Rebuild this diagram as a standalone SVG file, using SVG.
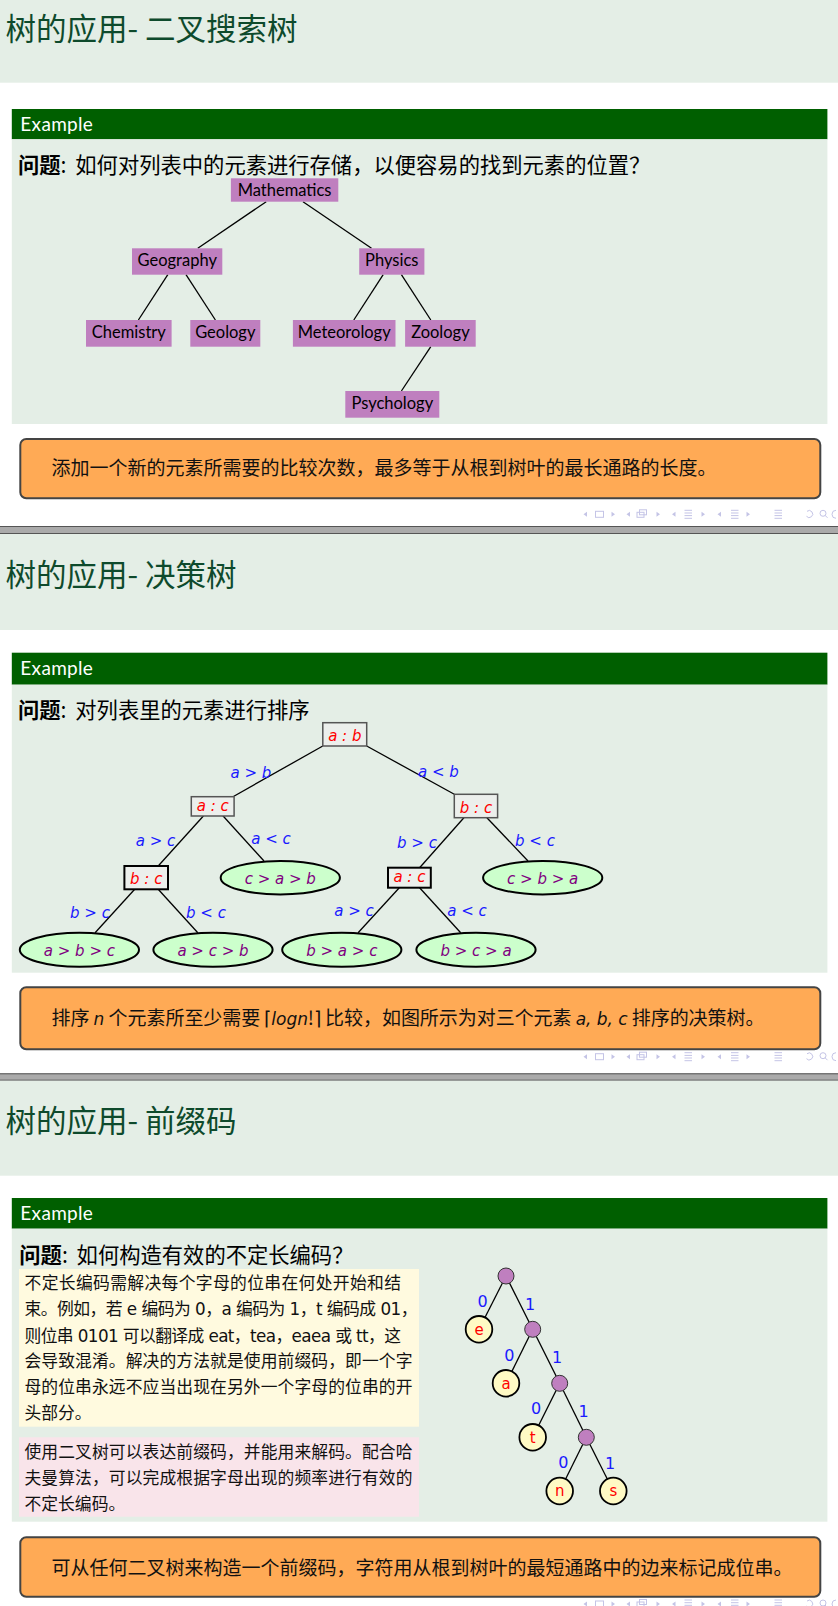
<svg xmlns="http://www.w3.org/2000/svg" xmlns:xlink="http://www.w3.org/1999/xlink" width="838" height="1606" viewBox="0 0 838 1606">
<style>
.band{fill:#E4EEE6}
.hdr{fill:#005F00}
.hdrt{font-family:Lato,"Open Sans",sans-serif;font-size:19px;fill:#fff}
.title{font-family:"Noto Sans CJK SC",sans-serif;font-size:30.5px;fill:#0E4A2C}
.q{font-family:"Noto Sans CJK SC",sans-serif;font-size:21.3px;fill:#000}
.qb{font-weight:bold}
.ob{fill:#FFAA55;stroke:#444;stroke-width:2}
.ot{font-family:"Noto Sans CJK SC",sans-serif;font-size:19px;fill:#111}
.it{font-family:"DejaVu Sans",sans-serif;font-style:italic;font-size:17px}
.pn{fill:#BF7FBF}
.pt{font-family:Lato,"Liberation Sans",sans-serif;font-size:16.5px;fill:#000;text-anchor:middle}
.edge{stroke:#000;stroke-width:1.3;fill:none}
.dbox{fill:#ECEFEC;stroke:#555;stroke-width:1.5}
.dbox2{fill:#ECEFEC;stroke:#000;stroke-width:2}
.dt{font-family:"DejaVu Sans",sans-serif;font-style:italic;font-size:15px;fill:#F00;text-anchor:middle}
.leaf{fill:#CCFFCC;stroke:#000;stroke-width:2}
.lt{font-family:"DejaVu Sans",sans-serif;font-style:italic;font-size:15px;fill:#800080;text-anchor:middle}
.el{font-family:"DejaVu Sans",sans-serif;font-style:italic;font-size:15px;fill:#1A1AFF;text-anchor:middle}
.sep{fill:#AAAAAA}
.sepl{stroke:#555;stroke-width:1}
.yb{fill:#FFFADF}
.pb{fill:#F9E4EA}
.bt{font-family:"DejaVu Sans","Noto Sans CJK SC",sans-serif;font-size:16.8px;fill:#111}
.cn{fill:#BF7FBF;stroke:#333;stroke-width:1}
.cl{fill:#FFFAC4;stroke:#000;stroke-width:1.8}
.clt{font-family:"DejaVu Sans",sans-serif;font-size:15px;fill:#F00;text-anchor:middle}
.bl{font-family:"DejaVu Sans",sans-serif;font-size:16px;fill:#1A1AFF;text-anchor:middle}
</style>
<defs>
<g id="nav">
<g fill="#C4C4E6">
<path d="M17,-2.5 L13.5,0 L17,2.5Z"/>
<path d="M41.5,-2.5 L45,0 L41.5,2.5Z"/>
<path d="M60,-2.5 L56.5,0 L60,2.5Z"/>
<path d="M86.5,-2.5 L90,0 L86.5,2.5Z"/>
<path d="M105.5,-2.5 L102,0 L105.5,2.5Z"/>
<path d="M131.5,-2.5 L135,0 L131.5,2.5Z"/>
<path d="M151,-2.5 L147.5,0 L151,2.5Z"/>
<path d="M176.5,-2.5 L180,0 L176.5,2.5Z"/>
</g>
<g fill="none" stroke="#C4C4E6" stroke-width="1">
<rect x="25.5" y="-3" width="8" height="6"/>
<rect x="67" y="-2" width="7" height="5"/>
<rect x="69.5" y="-4.5" width="7" height="5"/>
<path d="M114.5,-4 H122 M114.5,-1.3 H122 M114.5,1.3 H122 M114.5,4 H122"/>
<path d="M161,-4 H168.5 M161,-1.3 H168.5 M161,1.3 H168.5 M161,4 H168.5"/>
<path d="M204.5,-4 H212 M204.5,-1.3 H212 M204.5,1.3 H212 M204.5,4 H212"/>
<path d="M237,-3 A3.5,3.5 0 1 1 236.5,2"/>
<circle cx="253" cy="-1" r="3"/>
<path d="M255,1 L257.5,3.5"/>
<path d="M266,-4 A4,4 0 0 0 266,4"/>
</g>
</g>
</defs>

<!-- ============ Slide 1 ============ -->
<g id="slide1">
<rect class="band" x="0" y="0" width="838" height="82.7"/>
<text class="title" x="5.5" y="39.5">树的应用- 二叉搜索树</text>
<rect class="hdr" x="11.8" y="109" width="815.6" height="30.3"/>
<text class="hdrt" x="20.3" y="130.5" textLength="72.6">Example</text>
<rect class="band" x="11.8" y="139.3" width="815.6" height="284.7"/>
<text class="q" x="18" y="172.5"><tspan class="qb">问题</tspan>:<tspan dx="4"> 如何对列表中的元素进行存储，以便容易的找到元素的位置？</tspan></text>
</g>

<g id="bst-edges">
<line class="edge" x1="266.2" y1="201.7" x2="197.8" y2="248.3"/>
<line class="edge" x1="303" y1="201.7" x2="371.5" y2="248.3"/>
<line class="edge" x1="167.8" y1="274.7" x2="138.4" y2="320"/>
<line class="edge" x1="186" y1="274.7" x2="215.4" y2="320"/>
<line class="edge" x1="383.2" y1="274.7" x2="353.8" y2="320"/>
<line class="edge" x1="401.4" y1="274.7" x2="430.8" y2="320"/>
<line class="edge" x1="430.8" y1="346.7" x2="401.4" y2="391"/>
</g>
<g id="n-math"><rect class="pn" x="230.9" y="178.3" width="107.4" height="23.4"/><text class="pt" x="284.6" y="196">Mathematics</text></g>
<g id="n-geog"><rect class="pn" x="132" y="248.3" width="90.3" height="26.4"/><text class="pt" x="177.2" y="266">Geography</text></g>
<g id="n-phys"><rect class="pn" x="359.2" y="248.3" width="65.2" height="26.4"/><text class="pt" x="391.8" y="266">Physics</text></g>
<g id="n-chem"><rect class="pn" x="86" y="320" width="85.6" height="26.7"/><text class="pt" x="128.8" y="337.7">Chemistry</text></g>
<g id="n-geol"><rect class="pn" x="190.3" y="320" width="70" height="26.7"/><text class="pt" x="225.3" y="337.7">Geology</text></g>
<g id="n-meteo"><rect class="pn" x="292.9" y="320" width="102.6" height="26.7"/><text class="pt" x="344.2" y="337.7">Meteorology</text></g>
<g id="n-zoo"><rect class="pn" x="405.1" y="320" width="70.6" height="26.7"/><text class="pt" x="440.4" y="337.7">Zoology</text></g>
<g id="n-psych"><rect class="pn" x="345.3" y="391" width="94" height="26.7"/><text class="pt" x="392.3" y="408.7">Psychology</text></g>

<g id="note1">
<rect class="ob" x="20.3" y="439" width="800" height="59.3" rx="6"/>
<text class="ot" x="51.5" y="475" textLength="665">添加一个新的元素所需要的比较次数，最多等于从根到树叶的最长通路的长度。</text>
</g>
<use xlink:href="#nav" x="570" y="514.3"/>
<g id="sep1">
<rect class="sep" x="0" y="526" width="838" height="8"/>
<line class="sepl" x1="0" y1="526.5" x2="838" y2="526.5"/>
<line class="sepl" x1="0" y1="533.5" x2="838" y2="533.5"/>
</g>

<!-- ============ Slide 2 ============ -->
<g id="slide2">
<rect class="band" x="0" y="534" width="838" height="96"/>
<text class="title" x="5.5" y="586">树的应用- 决策树</text>
<rect class="hdr" x="11.8" y="652.7" width="815.6" height="32"/>
<text class="hdrt" x="20.3" y="674.5" textLength="72.6">Example</text>
<rect class="band" x="11.8" y="684.7" width="815.6" height="288"/>
<text class="q" x="18" y="717.5"><tspan class="qb">问题</tspan>:<tspan dx="4"> 对列表里的元素进行排序</tspan></text>
</g>

<g id="dt-edges">
<line class="edge" x1="322.8" y1="746" x2="233" y2="796.7"/>
<line class="edge" x1="366.7" y1="746" x2="454.3" y2="794.3"/>
<line class="edge" x1="203.6" y1="815.7" x2="158.2" y2="866"/>
<line class="edge" x1="222.9" y1="815.7" x2="264" y2="861"/>
<line class="edge" x1="463.9" y1="817.7" x2="419.6" y2="867.7"/>
<line class="edge" x1="486.9" y1="817.7" x2="528" y2="861"/>
<line class="edge" x1="134.7" y1="889.3" x2="95.1" y2="932.7"/>
<line class="edge" x1="158.2" y1="889.3" x2="197.8" y2="932.7"/>
<line class="edge" x1="399.3" y1="887.7" x2="358.1" y2="932.7"/>
<line class="edge" x1="419.6" y1="887.7" x2="460.7" y2="932.7"/>
</g>
<g id="dt-labels">
<text class="el" x="251" y="778">a &gt; b</text>
<text class="el" x="438.5" y="777">a &lt; b</text>
<text class="el" x="155.5" y="846">a &gt; c</text>
<text class="el" x="271" y="844">a &lt; c</text>
<text class="el" x="417" y="848">b &gt; c</text>
<text class="el" x="535" y="846">b &lt; c</text>
<text class="el" x="90" y="918">b &gt; c</text>
<text class="el" x="206" y="918">b &lt; c</text>
<text class="el" x="354" y="916">a &gt; c</text>
<text class="el" x="467" y="916">a &lt; c</text>
</g>
<g id="d-ab"><rect class="dbox" x="322.8" y="722.7" width="43.9" height="23.3"/><text class="dt" x="344.8" y="741">a : b</text></g>
<g id="d-ac1"><rect class="dbox" x="191.3" y="796.7" width="42.8" height="19.3"/><text class="dt" x="212.7" y="810.5">a : c</text></g>
<g id="d-bc1"><rect class="dbox" x="454.3" y="794.3" width="43.3" height="23.4"/><text class="dt" x="476" y="812.5">b : c</text></g>
<g id="d-bc2"><rect class="dbox2" x="124.4" y="866" width="43.6" height="23.3"/><text class="dt" x="146.2" y="884.3">b : c</text></g>
<g id="d-ac2"><rect class="dbox2" x="388" y="867.7" width="42.8" height="20"/><text class="dt" x="409.4" y="882">a : c</text></g>
<g id="l-cab"><ellipse class="leaf" cx="280.3" cy="877.7" rx="59.6" ry="16.7"/><text class="lt" x="280.3" y="883.5">c &gt; a &gt; b</text></g>
<g id="l-cba"><ellipse class="leaf" cx="542.7" cy="877.7" rx="59.6" ry="16.7"/><text class="lt" x="542.7" y="883.5">c &gt; b &gt; a</text></g>
<g id="l-abc"><ellipse class="leaf" cx="79.4" cy="949.7" rx="59.6" ry="17"/><text class="lt" x="79.4" y="955.5">a &gt; b &gt; c</text></g>
<g id="l-acb"><ellipse class="leaf" cx="213" cy="949.7" rx="59.6" ry="17"/><text class="lt" x="213" y="955.5">a &gt; c &gt; b</text></g>
<g id="l-bac"><ellipse class="leaf" cx="341.8" cy="949.7" rx="59.6" ry="17"/><text class="lt" x="341.8" y="955.5">b &gt; a &gt; c</text></g>
<g id="l-bca"><ellipse class="leaf" cx="476" cy="949.7" rx="59.6" ry="17"/><text class="lt" x="476" y="955.5">b &gt; c &gt; a</text></g>

<g id="note2">
<rect class="ob" x="20.3" y="987.3" width="800" height="62" rx="6"/>
<text class="ot" x="51.5" y="1024.5" textLength="713">排序 <tspan class="it">n</tspan> 个元素所至少需要 ⌈<tspan class="it">logn</tspan>!⌉ 比较，如图所示为对三个元素 <tspan class="it">a, b, c</tspan> 排序的决策树。</text>
</g>
<use xlink:href="#nav" x="570" y="1056.7"/>
<g id="sep2">
<rect class="sep" x="0" y="1073.3" width="838" height="7.4"/>
<line class="sepl" x1="0" y1="1073.8" x2="838" y2="1073.8"/>
<line class="sepl" x1="0" y1="1080.2" x2="838" y2="1080.2"/>
</g>

<!-- ============ Slide 3 ============ -->
<g id="slide3">
<rect class="band" x="0" y="1080.7" width="838" height="95"/>
<text class="title" x="5.5" y="1131.5">树的应用- 前缀码</text>
<rect class="hdr" x="11.8" y="1198" width="815.6" height="30.7"/>
<text class="hdrt" x="20.3" y="1219.5" textLength="72.6">Example</text>
<rect class="band" x="11.8" y="1228.7" width="815.6" height="293"/>
<text class="q" x="19.3" y="1262.5"><tspan class="qb">问题</tspan>:<tspan dx="4"> 如何构造有效的不定长编码？</tspan></text>
</g>

<g id="yellow-block">
<rect class="yb" x="19" y="1269" width="400" height="157.7"/>
<text class="bt" x="24.5" y="1289" textLength="376.5">不定长编码需解决每个字母的位串在何处开始和结</text>
<text class="bt" x="24.5" y="1315.3" textLength="393">束。例如，若 e 编码为 0，a 编码为 1，t 编码成 01，</text>
<text class="bt" x="24.5" y="1341.6" textLength="376.5">则位串 0101 可以翻译成 eat，tea，eaea 或 tt，这</text>
<text class="bt" x="24.5" y="1367.3" textLength="388">会导致混淆。解决的方法就是使用前缀码，即一个字</text>
<text class="bt" x="24.5" y="1393" textLength="388">母的位串永远不应当出现在另外一个字母的位串的开</text>
<text class="bt" x="24.5" y="1418.5">头部分。</text>
</g>
<g id="pink-block">
<rect class="pb" x="19" y="1437.3" width="400" height="79.4"/>
<text class="bt" x="24.5" y="1458" textLength="388">使用二叉树可以表达前缀码，并能用来解码。配合哈</text>
<text class="bt" x="24.5" y="1484.3" textLength="388">夫曼算法，可以完成根据字母出现的频率进行有效的</text>
<text class="bt" x="24.5" y="1510">不定长编码。</text>
</g>

<g id="pc-edges">
<line class="edge" x1="506" y1="1276" x2="479" y2="1329.3"/>
<line class="edge" x1="506" y1="1276" x2="532.7" y2="1329.3"/>
<line class="edge" x1="532.7" y1="1329.3" x2="506" y2="1383.3"/>
<line class="edge" x1="532.7" y1="1329.3" x2="559.7" y2="1383.3"/>
<line class="edge" x1="559.7" y1="1383.3" x2="532.7" y2="1437.3"/>
<line class="edge" x1="559.7" y1="1383.3" x2="586.3" y2="1437.3"/>
<line class="edge" x1="586.3" y1="1437.3" x2="559.7" y2="1491"/>
<line class="edge" x1="586.3" y1="1437.3" x2="613.3" y2="1491"/>
</g>
<g id="pc-labels">
<text class="bl" x="482.7" y="1306.5">0</text>
<text class="bl" x="530" y="1310">1</text>
<text class="bl" x="509.3" y="1361">0</text>
<text class="bl" x="557" y="1362.5">1</text>
<text class="bl" x="536" y="1414">0</text>
<text class="bl" x="583.7" y="1416.5">1</text>
<text class="bl" x="563.3" y="1467.5">0</text>
<text class="bl" x="610" y="1469">1</text>
</g>
<g id="c-root"><circle class="cn" cx="506" cy="1276" r="8"/></g>
<g id="c-e"><circle class="cl" cx="479" cy="1329.3" r="13.3"/><text class="clt" x="479" y="1334.5">e</text></g>
<g id="c-n2"><circle class="cn" cx="532.7" cy="1329.3" r="8"/></g>
<g id="c-a"><circle class="cl" cx="506" cy="1383.3" r="13.3"/><text class="clt" x="506" y="1388.5">a</text></g>
<g id="c-n3"><circle class="cn" cx="559.7" cy="1383.3" r="8"/></g>
<g id="c-t"><circle class="cl" cx="532.7" cy="1437.3" r="13.3"/><text class="clt" x="532.7" y="1442.5">t</text></g>
<g id="c-n4"><circle class="cn" cx="586.3" cy="1437.3" r="8"/></g>
<g id="c-n"><circle class="cl" cx="559.7" cy="1491" r="13.3"/><text class="clt" x="559.7" y="1496.2">n</text></g>
<g id="c-s"><circle class="cl" cx="613.3" cy="1491" r="13.3"/><text class="clt" x="613.3" y="1496.2">s</text></g>

<g id="note3">
<rect class="ob" x="20.3" y="1537.3" width="800" height="59.4" rx="6"/>
<text class="ot" x="51.5" y="1575" textLength="741">可从任何二叉树来构造一个前缀码，字符用从根到树叶的最短通路中的边来标记成位串。</text>
</g>
<use xlink:href="#nav" x="570" y="1604"/>
</svg>
